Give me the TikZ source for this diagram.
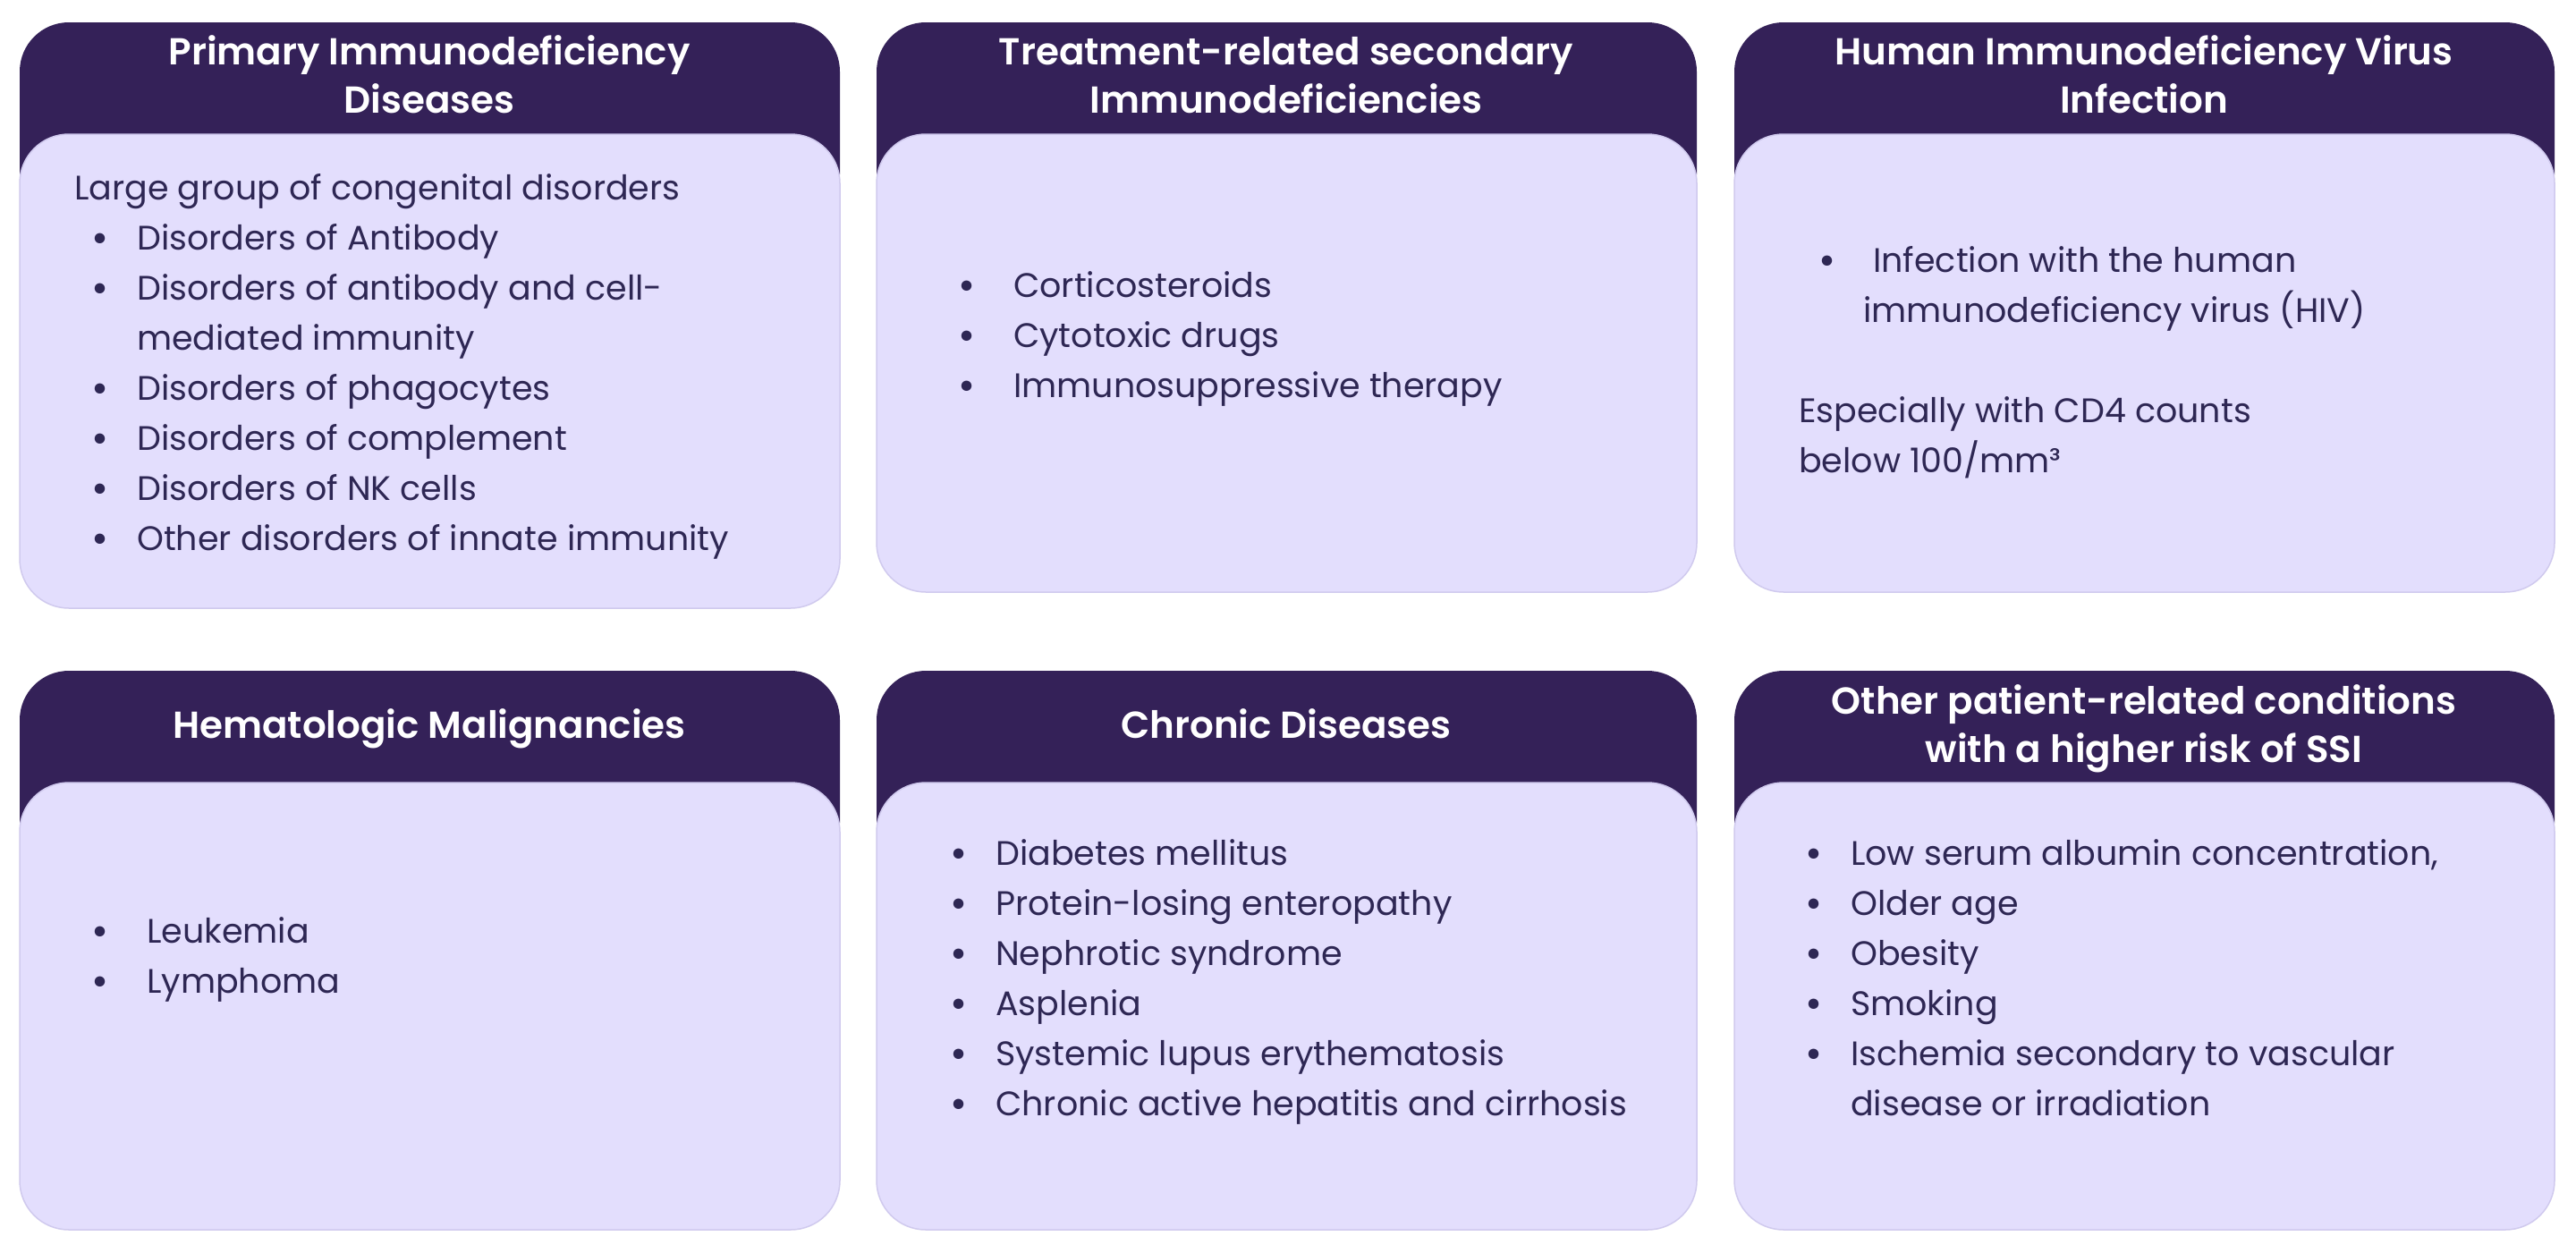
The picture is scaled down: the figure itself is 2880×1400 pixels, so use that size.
\documentclass[tikz,border=0pt]{standalone}
\usepackage{fontspec}
\setmainfont{Poppins}
\newfontfamily\semib{Poppins SemiBold}
\usetikzlibrary{calc}

\definecolor{headcol}{RGB}{52,33,88}
\definecolor{bodycol}{RGB}{227,222,253}
\definecolor{edgecol}{RGB}{208,202,238}
\definecolor{textcol}{RGB}{46,39,84}

\newcommand\bul[1]{\makebox[0pt]{\textbf{\textbullet}}\hspace*{#1}}

\begin{document}
\begin{tikzpicture}[x=1pt,y=-1pt,
  head/.style={fill=headcol,rounded corners=55pt},
  card/.style={fill=bodycol,draw=edgecol,line width=1.5pt,rounded corners=55pt},
  title/.style={anchor=base,inner sep=0pt,text=white,font=\fontsize{42}{54}\selectfont\semib},
  list/.style={anchor=base west,inner sep=0pt,text=textcol,font=\fontsize{38}{56}\selectfont},
  ]
  \def\w{917}   % card width
  \def\hh{125}  % visible header height
  \useasboundingbox (0,0) rectangle (2880,1400);
  \fill[white] (0,0) rectangle (2880,1400);
  % HEADERS (lower part hidden under the cards)
  \fill[head] (22,25)    rectangle ++(\w,\hh+100);
  \fill[head] (980,25)   rectangle ++(\w,\hh+100);
  \fill[head] (1939,25)  rectangle ++(\w,\hh+100);
  \fill[head] (22,750)   rectangle ++(\w,\hh+100);
  \fill[head] (980,750)  rectangle ++(\w,\hh+100);
  \fill[head] (1939,750) rectangle ++(\w,\hh+100);
  % CARDS
  \draw[card] (22,25+\hh)    rectangle (22+\w,680);
  \draw[card] (980,25+\hh)   rectangle (980+\w,662);
  \draw[card] (1939,25+\hh)  rectangle (1939+\w,662);
  \draw[card] (22,750+\hh)   rectangle (22+\w,1375);
  \draw[card] (980,750+\hh)  rectangle (980+\w,1375);
  \draw[card] (1939,750+\hh) rectangle (1939+\w,1375);
  % TITLES
  \node[title] (t1) at (480,72)    {\begin{tabular}[t]{@{}c@{}}Primary Immunodeficiency\\Diseases\end{tabular}};
  \node[title] (t2) at (1438,72)   {\begin{tabular}[t]{@{}c@{}}Treatment-related secondary\\Immunodeficiencies\end{tabular}};
  \node[title] (t3) at (2397,72)   {\begin{tabular}[t]{@{}c@{}}Human Immunodeficiency Virus\\Infection\end{tabular}};
  \node[title] (t4) at (480,825)   {Hematologic Malignancies};
  \node[title] (t5) at (1438,825)  {Chronic Diseases};
  \node[title] (t6) at (2397,798)  {\begin{tabular}[t]{@{}c@{}}Other patient-related conditions\\with a higher risk of SSI\end{tabular}};
  % LISTS
  \node[list] (l1) at (112,223) {\begin{tabular}[t]{@{}l@{}}
    \hspace*{-29pt}Large group of congenital disorders\\
    \bul{41pt}Disorders of Antibody\\
    \bul{41pt}Disorders of antibody and cell-\\
    \hspace*{41pt}mediated immunity\\
    \bul{41pt}Disorders of phagocytes\\
    \bul{41pt}Disorders of complement\\
    \bul{41pt}Disorders of NK cells\\
    \bul{41pt}Other disorders of innate immunity
  \end{tabular}};
  \node[list] (l2) at (1081,332) {\begin{tabular}[t]{@{}l@{}}
    \bul{52pt}Corticosteroids\\
    \bul{52pt}Cytotoxic drugs\\
    \bul{52pt}Immunosuppressive therapy
  \end{tabular}};
  \node[list] (l3) at (2043,304) {\begin{tabular}[t]{@{}l@{}}
    \bul{51pt}Infection with the human\\
    \hspace*{40pt}immunodeficiency virus (HIV)
  \end{tabular}};
  \node[list] (n3) at (2011,472) {\begin{tabular}[t]{@{}l@{}}
    Especially with CD4 counts\\
    below 100/mm³
  \end{tabular}};
  \node[list] (l4) at (112,1054) {\begin{tabular}[t]{@{}l@{}}
    \bul{52pt}Leukemia\\
    \bul{52pt}Lymphoma
  \end{tabular}};
  \node[list] (l5) at (1072,967) {\begin{tabular}[t]{@{}l@{}}
    \bul{41pt}Diabetes mellitus\\
    \bul{41pt}Protein-losing enteropathy\\
    \bul{41pt}Nephrotic syndrome\\
    \bul{41pt}Asplenia\\
    \bul{41pt}Systemic lupus erythematosis\\
    \bul{41pt}Chronic active hepatitis and cirrhosis
  \end{tabular}};
  \node[list] (l6) at (2028,967) {\begin{tabular}[t]{@{}l@{}}
    \bul{41pt}Low serum albumin concentration,\\
    \bul{41pt}Older age\\
    \bul{41pt}Obesity\\
    \bul{41pt}Smoking\\
    \bul{41pt}Ischemia secondary to vascular\\
    \hspace*{41pt}disease or irradiation
  \end{tabular}};
\end{tikzpicture}
\end{document}
